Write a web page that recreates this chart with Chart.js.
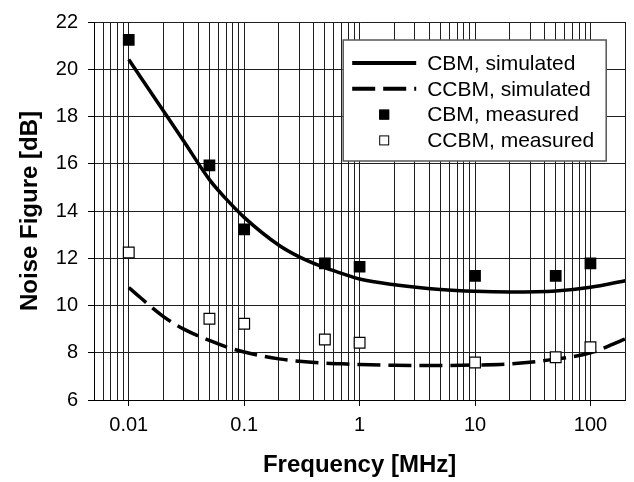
<!DOCTYPE html>
<html>
<head>
<meta charset="utf-8">
<title>Noise Figure vs Frequency</title>
<script src="https://cdn.jsdelivr.net/npm/chart.js"></script>
<style>
  html, body { margin: 0; padding: 0; background: #fff; }
  #chart { display: block; }
</style>
</head>
<body>
<canvas id="chart" width="634" height="482"></canvas>
<script>
// Data (frequency in MHz, noise figure in dB)
const measuredFreq = [0.01, 0.05, 0.1, 0.5, 1, 10, 50, 100];
const cbmMeasured = [21.24, 15.93, 13.22, 11.78, 11.64, 11.25, 11.25, 11.78];
const ccbmMeasured = [12.24, 9.44, 9.23, 8.56, 8.42, 7.59, 7.81, 8.23];

const simFreq = [0.01, 0.02, 0.03, 0.05, 0.07, 0.1, 0.2, 0.3, 0.5, 0.7, 1, 2, 5, 10, 20, 50, 100, 200];
const cbmSimulated = [20.41, 18.23, 16.95, 15.33, 14.5, 13.73, 12.55, 12.06, 11.6, 11.36, 11.12, 10.88, 10.68, 10.6, 10.57, 10.61, 10.77, 11.05];
const ccbmSimulated = [10.76, 9.53, 9.0, 8.52, 8.25, 8.03, 7.74, 7.64, 7.56, 7.53, 7.5, 7.47, 7.46, 7.48, 7.53, 7.73, 8.0, 8.58];

// Axis ticks
const xMajorTicks = [0.01, 0.1, 1, 10, 100];
const xTickLabels = ['0.01', '0.1', '1', '10', '100'];
const xDecades = [0.001, 0.01, 0.1, 1, 10, 100];
const xMinorSteps = [1, 2, 3, 4, 5, 6, 7, 8, 9];
const xMin = 0.005, xMax = 200;
const yMin = 6, yMax = 22, yStep = 2;

const toPoints = (xs, ys) => xs.map((x, i) => ({ x: x, y: ys[i] }));

// every grid line of the log axis (1..9 per decade, clipped to range)
const xGridValues = [];
xDecades.forEach(d => {
  xMinorSteps.forEach(m => {
    const v = Number((d * m).toPrecision(3));
    if (v >= xMin && v <= xMax) xGridValues.push(v);
  });
});
if (!xGridValues.includes(xMax)) xGridValues.push(xMax);

const FONT = "'Liberation Sans', Arial, Helvetica, sans-serif";

// Legend drawn inside the plot area, like the original figure
const insideLegend = {
  id: 'insideLegend',
  afterDatasetsDraw(chart) {
    const { ctx, chartArea } = chart;
    const boxW = 263, boxH = 121;
    const x0 = chartArea.right - 19 - boxW;
    const y0 = chartArea.top + 18;

    ctx.save();
    ctx.fillStyle = '#fff';
    ctx.fillRect(x0, y0, boxW, boxH);
    ctx.strokeStyle = '#555';
    ctx.lineWidth = 1.5;
    ctx.strokeRect(x0, y0, boxW, boxH);

    ctx.font = '21px ' + FONT;
    ctx.textBaseline = 'middle';
    ctx.textAlign = 'left';

    chart.data.datasets.forEach((ds, i) => {
      const ry = y0 + 23 + i * 25.8;
      const sx = x0 + 9;
      const cx = x0 + 41;
      if (ds.showLine) {
        ctx.strokeStyle = ds.borderColor;
        ctx.lineWidth = 4;
        ctx.setLineDash(ds.legendDash || []);
        ctx.beginPath();
        ctx.moveTo(sx, ry);
        ctx.lineTo(sx + 64, ry);
        ctx.stroke();
        ctx.setLineDash([]);
      } else {
        const s = 10;
        ctx.fillStyle = ds.backgroundColor;
        ctx.fillRect(cx - s / 2, ry - s / 2, s, s);
        ctx.strokeStyle = ds.borderColor;
        ctx.lineWidth = 1;
        ctx.strokeRect(cx - s / 2 + 0.5, ry - s / 2 + 0.5, s - 1, s - 1);
      }
      ctx.fillStyle = '#000';
      ctx.fillText(ds.label, x0 + 84, ry + 1);
    });
    ctx.restore();
  }
};

new Chart(document.getElementById('chart'), {
  type: 'scatter',
  data: {
    datasets: [
      {
        label: 'CBM, simulated',
        data: toPoints(simFreq, cbmSimulated),
        showLine: true,
        borderColor: '#000',
        borderWidth: 3.5,
        pointRadius: 0,
        cubicInterpolationMode: 'monotone',
        order: 2
      },
      {
        label: 'CCBM, simulated',
        data: toPoints(simFreq, ccbmSimulated),
        showLine: true,
        borderColor: '#000',
        borderWidth: 3.5,
        borderDash: [23, 8],
        legendDash: [23, 8],
        pointRadius: 0,
        cubicInterpolationMode: 'monotone',
        order: 2
      },
      {
        label: 'CBM, measured',
        data: toPoints(measuredFreq, cbmMeasured),
        pointStyle: 'rect',
        pointRadius: 8.3,
        backgroundColor: '#000',
        borderColor: '#000',
        borderWidth: 0,
        order: 1
      },
      {
        label: 'CCBM, measured',
        data: toPoints(measuredFreq, ccbmMeasured),
        pointStyle: 'rect',
        pointRadius: 7.6,
        backgroundColor: '#fff',
        borderColor: '#000',
        borderWidth: 1.2,
        order: 1
      }
    ]
  },
  options: {
    responsive: false,
    animation: false,
    layout: { padding: { top: 17, right: 8, left: 0, bottom: 0 } },
    plugins: {
      legend: { display: false },
      tooltip: { enabled: false }
    },
    scales: {
      x: {
        type: 'logarithmic',
        min: xMin,
        max: xMax,
        afterBuildTicks: (scale) => {
          scale.ticks = xGridValues.map(v => ({ value: v }));
        },
        afterFit: (scale) => { scale.height = 82; },
        ticks: {
          autoSkip: false,
          maxRotation: 0,
          padding: 7,
          color: '#000',
          font: { family: FONT, size: 20 },
          callback: (value) => {
            const i = xMajorTicks.findIndex(t => Math.abs(t - value) < t * 1e-6);
            return i >= 0 ? xTickLabels[i] : '';
          }
        },
        grid: {
          color: '#1e1e1e',
          lineWidth: 1,
          tickLength: 6,
          tickColor: (c) => {
            const v = c.tick ? c.tick.value : 0;
            return xMajorTicks.some(t => Math.abs(t - v) < t * 1e-6) ? '#000' : 'rgba(0,0,0,0)';
          }
        },
        border: { color: '#000', width: 1 },
        title: {
          display: true,
          text: 'Frequency [MHz]',
          color: '#000',
          font: { family: FONT, size: 24, weight: 'bold' },
          padding: { top: 0, bottom: 2 }
        }
      },
      y: {
        type: 'linear',
        min: yMin,
        max: yMax,
        afterFit: (scale) => { scale.width = 94; },
        ticks: {
          stepSize: yStep,
          padding: 10,
          color: '#000',
          font: { family: FONT, size: 20 }
        },
        grid: {
          color: '#1e1e1e',
          lineWidth: 1,
          tickLength: 6,
          tickColor: '#000'
        },
        border: { color: '#000', width: 1 },
        title: {
          display: true,
          text: 'Noise Figure [dB]',
          color: '#000',
          font: { family: FONT, size: 24, weight: 'bold' },
          padding: { top: 16, bottom: 0 }
        }
      }
    }
  },
  plugins: [insideLegend]
});
</script>
</body>
</html>
